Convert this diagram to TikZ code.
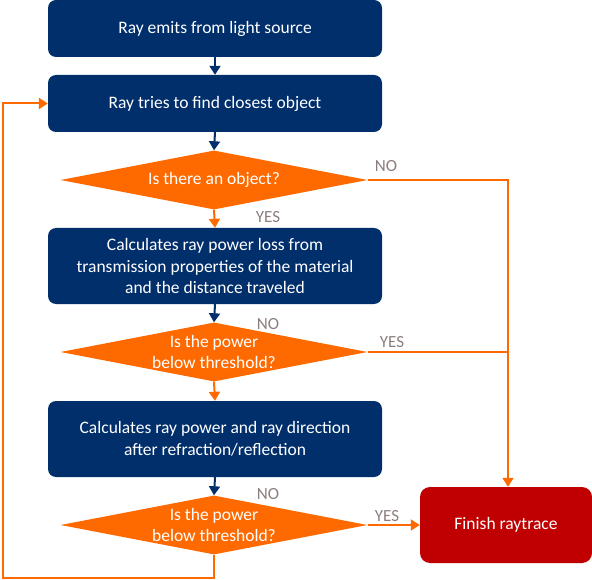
\documentclass[tikz,border=0pt]{standalone}
\usepackage{fontspec}
\setmainfont{Carlito}
\usetikzlibrary{shapes.geometric,arrows.meta}
\definecolor{navy}{RGB}{0,47,108}
\definecolor{orng}{RGB}{255,106,0}
\definecolor{redbox}{RGB}{192,0,0}
\definecolor{lbl}{RGB}{140,125,125}
\tikzset{
  procbox/.style={draw=none,fill=navy,rounded corners=8pt,minimum width=334pt,text=white,align=center,font=\fontsize{17.5}{21.5}\selectfont,inner sep=0pt},
  dec/.style={diamond,fill=orng,minimum width=307pt,minimum height=59pt,inner sep=0pt},
  dectext/.style={text=white,align=center,font=\fontsize{17.5}{21}\selectfont},
  endbox/.style={fill=redbox,rounded corners=10pt,minimum width=172pt,minimum height=76pt,text=white,font=\fontsize{17.5}{20}\selectfont},
  blarrow/.style={draw=navy,line width=2pt,-{Triangle[width=11pt,length=9pt]}},
  orarrow/.style={draw=orng,line width=2pt,-{Triangle[width=11pt,length=9pt]}},
  orline/.style={draw=orng,line width=2pt},
  yn/.style={text=lbl,font=\fontsize{17}{19}\selectfont,inner sep=0pt}
}
\begin{document}
\begin{tikzpicture}[x=1pt,y=-1pt]
\useasboundingbox (0,0) rectangle (592,580);
\node[procbox,minimum height=57pt] (b1) at (215,28.5) {Ray emits from light source};
\node[procbox,minimum height=57pt] (b2) at (215,103.5) {Ray tries to find closest object};
\node[dec] (d1) at (214,180) {};
\node[dectext] (t1) at (d1.center) {Is there an object?};
\node[procbox,minimum height=76pt] (b3) at (215,266) {Calculates ray power loss from\\transmission properties of the material\\and the distance traveled};
\node[dec] (d2) at (214,352) {};
\node[dectext] (t2) at (d2.center) {Is the power\\below threshold?};
\node[procbox,minimum height=76pt] (b4) at (215,439) {Calculates ray power and ray direction\\after refraction/reflection};
\node[dec] (d3) at (214,525) {};
\node[dectext] (t3) at (d3.center) {Is the power\\below threshold?};
\node[endbox] (fin) at (506,525) {Finish raytrace};
\coordinate (c1) at (508,180);
\coordinate (c2) at (508,352);
\coordinate (l1) at (214,578);
\coordinate (l2) at (3,578);
\coordinate (l3) at (3,103.5);
\draw[blarrow] (b1) -- (b2);
\draw[blarrow] (b2.south) -- (d1.north);
\draw[orarrow] (d1.south) -- (b3.north);
\draw[blarrow] (b3.south) -- (d2.north);
\draw[orarrow] (d2.south) -- (b4.north);
\draw[blarrow] (b4.south) -- (d3.north);
\draw[orarrow] (d1.east) -- (c1) -- (fin.north -| c1);
\draw[orline] (d2.east) -- (c2);
\draw[orarrow] (d3.east) -- (fin.west);
\draw[orarrow] (d3.south) -- (l1) -- (l2) -- (l3) -- (b2.west);
\node[yn] (n1) at (386,166) {NO};
\node[yn] (y1) at (268,217) {YES};
\node[yn] (n2) at (268,324) {NO};
\node[yn] (y2) at (392,342) {YES};
\node[yn] (n3) at (268,494) {NO};
\node[yn] (y3) at (387,516) {YES};
\end{tikzpicture}
\end{document}
